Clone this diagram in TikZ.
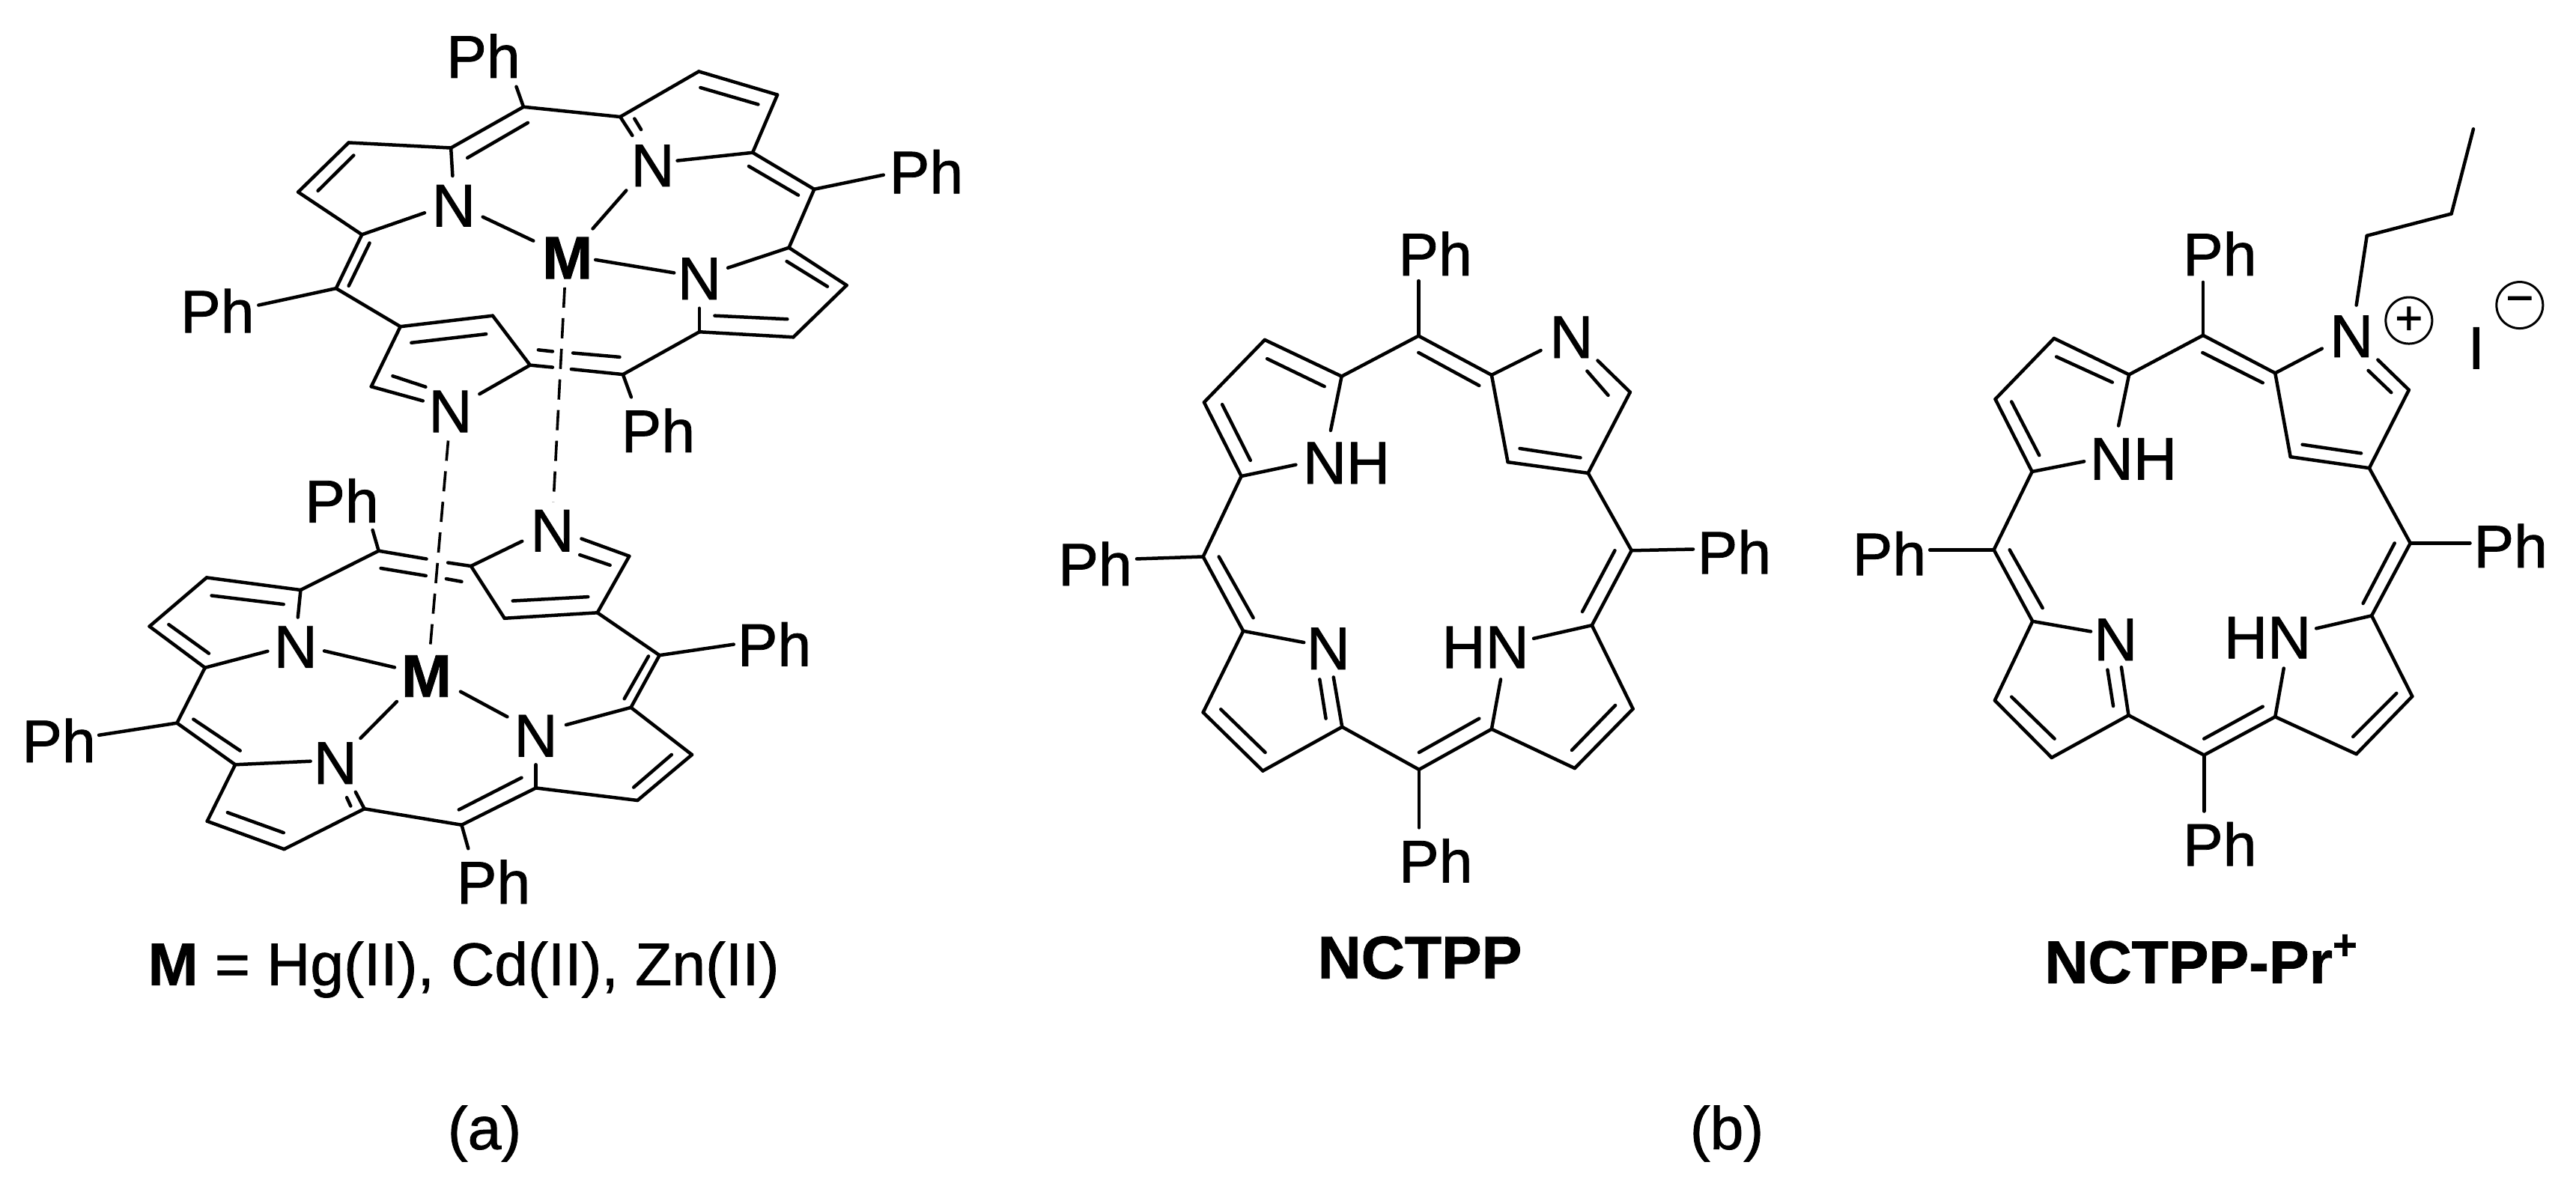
\documentclass[tikz,border=0pt]{standalone}
\usepackage{fontspec}
\setmainfont[RawFeature={embolden=1}]{Liberation Sans}
\newcommand{\atomset}[1]{\foreach \n/\x/\y in {#1}{\coordinate (\n) at (\x,\y);}}
\newcommand{\bondset}[1]{\foreach \a/\b in {#1}{\draw[bondline] (\a) -- (\b);}}
\tikzset{
  bondline/.style={line width=0.045cm,line cap=round,black},
  dashbond/.style={line width=0.036cm,black,dash pattern=on 0.27cm off 0.14cm},
  lab/.style={inner sep=0pt,font=\fontsize{22.9}{27}\selectfont},
  labb/.style={inner sep=0pt,font=\fontsize{22.9}{27}\selectfont\bfseries},
  charge/.style={circle,draw,line width=0.03cm,inner sep=0pt,minimum size=0.62cm,font=\fontsize{18}{18}\selectfont},
  zoneU/.style={x=0.007337cm,y=-0.004146cm,shift={(2cm,0cm)}},
  zoneL/.style={x=0.007337cm,y=-0.004146cm,shift={(0cm,-6cm)}},
  zoneC/.style={x=0.006378cm,y=-0.005869cm,shift={(14cm,-2.8cm)}},
  zoneR/.style={x=0.006378cm,y=-0.006826cm,shift={(24.4cm,-1.3cm)}},
}
\begin{document}
\begin{tikzpicture}
\useasboundingbox (0,0) rectangle (34.4cm,-15.88cm);
% ---------- upper complex
\begin{scope}[zoneU]
\node[lab] (uPh1) at (607,180) {Ph};
\node[lab] (uPh2) at (1413,552) {Ph};
\node[lab] (uPh3) at (123,1000) {Ph};
\node[lab] (uPh4) at (925,1385) {Ph};
\node[lab] (uN1) at (915,533) {N};
\node[lab] (uN2) at (553,662) {N};
\node[lab] (uN3) at (1000,897) {N};
\node[lab] (uN4) at (547,1324) {N};
\node[labb] (uM) at (760,830) {M};
\atomset{a1/680/344,a2/548/476,a3/362/459,a4/270/618,a5/386/755,a6/339/928,a7/456/1051,a8/624/1016,a9/692/1175,a10/861/1205,a11/1000/1068,a12/1171/1085,a13/1268/918,a14/1163/797,a15/1209/609,a16/1097/491,a17/1142/305,a18/999/230,a19/856/376,a20/403/1244,
 ue1/667/279,ue2/1335/563,ue3/198/982,ue4/876/1278,
 ue5/878/436,ue6/960/517,ue7/1000/992,ue8/1052/862,ue9/551/566,ue10/500/685,ue11/497/1290,ue12/600/1268,
 ui1/688/395,uj1/578/508,ui2/882/382,uj2/894/417,ui3/1002/282,uj3/1107/336,ui4/1090/535,uj4/1180/628,ui5/1159/841,uj5/1233/922,ui6/1028/1016,uj6/1160/1027,ui7/476/1103,uj7/612/1075,ui8/400/782,uj8/362/920,ui9/306/614,uj9/371/500,ui10/442/1210,uj10/502/1245,
 us1/733/1182,us2/767/1188,us3/707/1126,us4/733/1131,us5/770/1136,us6/855/1149,
 um1/606/698,um2/698/775,um3/867/613,um4/806/736,um5/811/836,um6/954/878,
 ud1/755/925,ud2/543/1418}
\bondset{a1/a2,a1/a19,a19/a18,a18/a17,a17/a16,a16/a15,a15/a14,a14/a13,a13/a12,a12/a11,a11/a10,a10/us2,us1/a9,a9/a8,a8/a7,a7/a6,a6/a5,a5/a4,a4/a3,a3/a2,a7/a20,
 a1/ue1,a15/ue2,a6/ue3,a10/ue4,a19/ue5,a16/ue6,a11/ue7,a14/ue8,a2/ue9,a5/ue10,a20/ue11,a9/ue12,
 ui1/uj1,ui2/uj2,ui3/uj3,ui4/uj4,ui5/uj5,ui6/uj6,ui7/uj7,ui8/uj8,ui9/uj9,ui10/uj10,us3/us4,us5/us6,
 um1/um2,um3/um4,um5/um6}
\end{scope}
% ---------- lower complex
\begin{scope}[zoneL]
\node[lab] (lPh1) at (622,165) {Ph};
\node[lab] (lPh2) at (1409,627) {Ph};
\node[lab] (lPh3) at (107,937) {Ph};
\node[lab] (lPh4) at (898,1392) {Ph};
\node[lab] (lN1) at (1005,262) {N};
\node[lab] (lN2) at (538,636) {N};
\node[lab] (lN3) at (975,922) {N};
\node[lab] (lN4) at (610,1010) {N};
\node[labb] (lM) at (776,730) {M};
\atomset{b1/689/327,b2/547/453,b3/376/413,b4/272/570,b5/373/703,b6/322/881,b7/428/1015,b8/377/1197,b9/517/1287,b10/663/1157,b11/840/1209,b12/975/1090,b13/1160/1130,b14/1259/983,b15/1148/831,b16/1200/663,b17/1087/526,b18/918/544,b19/857/376,b20/1145/344,
 le1/678/260,le2/1335/628,le3/180/920,le4/852/1285,
 le5/542/541,le6/487/650,le7/565/1004,le8/647/1103,le9/975/1015,le10/1030/887,le11/1058/288,le12/950/296,
 li1/385/471,lj1/516/499,li2/307/564,lj2/380/657,li3/352/869,lj3/437/970,li4/414/1169,lj4/516/1234,li5/638/1148,lj5/631/1121,li6/835/1160,lj6/949/1057,li7/1153/1088,lj7/1222/983,li8/1136/803,lj8/1180/666,li9/933/488,lj9/1070/475,li10/1110/373,lj10/1055/340,
 ls1/776/353,ls2/815/365,ls3/693/383,ls4/775/407,ls5/812/417,ls6/840/426,
 lm1/590/649,lm2/718/702,lm3/838/780,lm4/923/861,lm5/722/812,lm6/656/930,
 ld1/783/632,ld2/1007/170}
\bondset{b1/b2,b2/b3,b3/b4,b4/b5,b5/b6,b6/b7,b7/b8,b8/b9,b9/b10,b10/b11,b11/b12,b12/b13,b13/b14,b14/b15,b15/b16,b16/b17,b17/b18,b18/b19,b17/b20,b1/ls1,ls2/b19,
 b1/le1,b16/le2,b6/le3,b11/le4,b2/le5,b5/le6,b7/le7,b10/le8,b12/le9,b15/le10,b20/le11,b19/le12,
 li1/lj1,li2/lj2,li3/lj3,li4/lj4,li5/lj5,li6/lj6,li7/lj7,li8/lj8,li9/lj9,li10/lj10,ls3/ls4,ls5/ls6,
 lm1/lm2,lm3/lm4,lm5/lm6}
\end{scope}
% dashed contacts between the two complexes
\draw[dashbond] (ud1) -- (ld2);
\draw[dashbond] (ud2) -- (ld1);
% ---------- NCTPP
\begin{scope}[zoneC]
\node[lab] (cPh1) at (810,100) {Ph};
\node[lab] (cPh2) at (98,805) {Ph};
\node[lab] (cPh3) at (1436,778) {Ph};
\node[lab] (cPh4) at (811,1480) {Ph};
\node[lab] (cN1) at (1095,290) {N};
\node[lab] (cNH) at (624,576) {NH};
\node[lab] (cN2) at (586,998) {N};
\node[lab] (cHN) at (915,995) {HN};
\atomset{m1/775/287,c1/614/379,c2/453/296,c3/326/438,c4/404/606,m2/324/789,c5/408/958,c6/324/1143,c7/449/1276,c8/615/1176,m3/776/1273,c9/928/1181,c10/1102/1270,c11/1224/1135,c12/1138/945,m4/1221/775,c13/1130/599,c14/962/574,c15/928/376,c16/1218/415,
 ce1/775/162,ce2/185/794,ce3/776/1405,ce4/1350/772,
 ce5/591/502,ce6/518/580,ce7/535/984,ce8/597/1063,ce9/947/1068,ce10/1016/975,ce11/1150/343,ce12/1031/320,
 ci1/775/325,cj1/902/400,ci2/458/339,cj2/578/402,ci3/364/443,cj3/423/570,ci4/357/789,cj4/429/928,ci5/361/1136,cj5/454/1234,ci6/581/1157,cj6/568/1068,ci7/776/1234,cj7/902/1157,ci8/1096/1229,cj8/1187/1127,ci9/1118/914,cj9/1186/775,ci10/987/543,cj10/1114/564,ci11/1172/422,cj11/1128/367}
\bondset{m1/c1,m1/c15,c1/c2,c2/c3,c3/c4,c4/m2,m2/c5,c5/c6,c6/c7,c7/c8,c8/m3,m3/c9,c9/c10,c10/c11,c11/c12,c12/m4,m4/c13,c13/c14,c14/c15,c13/c16,
 m1/ce1,m2/ce2,m3/ce3,m4/ce4,c1/ce5,c4/ce6,c5/ce7,c8/ce8,c9/ce9,c12/ce10,c16/ce11,c15/ce12,
 ci1/cj1,ci2/cj2,ci3/cj3,ci4/cj4,ci5/cj5,ci6/cj6,ci7/cj7,ci8/cj8,ci9/cj9,ci10/cj10,ci11/cj11}
\end{scope}
% ---------- NCTPP-Pr+
\begin{scope}[zoneR]
\node[lab] (rPh1) at (822,306) {Ph};
\node[lab] (rPh2) at (130,893) {Ph};
\node[lab] (rPh3) at (1431,878) {Ph};
\node[lab] (rPh4) at (822,1462) {Ph};
\node[lab] (rN1) at (1098,468) {N};
\node[lab] (rNH) at (641,708) {NH};
\node[lab] (rN2) at (604,1062) {N};
\node[lab] (rHN) at (922,1058) {HN};
\node[lab] (rI) at (1359,491) {I};
\node[charge] (rPlus) at (1218,437) {+};
\node[charge] (rMinus) at (1450,407) {\char"2212};
\atomset{n1/787/466,d1/632/543,d2/475/472,d3/352/591,d4/429/733,n2/349/886,d5/430/1026,d6/351/1181,d7/470/1293,d8/631/1210,n3/789/1288,d9/938/1213,d10/1108/1286,d11/1225/1173,d12/1140/1015,n4/1221/873,d13/1135/726,d14/970/704,d15/938/540,d16/1218/573,
 re1/787/362,re2/215/886,re3/789/1398,re4/1346/873,
 re5/610/643,re6/538/713,re7/552/1046,re8/616/1116,re9/956/1118,re10/1024/1040,re11/1153/514,re12/1036/492,
 ri1/786/500,rj1/912/559,ri2/480/508,rj2/597/558,ri3/386/596,rj3/444/701,ri4/382/886,rj4/451/1000,ri5/386/1174,rj5/476/1256,ri6/599/1192,rj6/587/1121,ri7/789/1256,rj7/912/1193,ri8/1101/1252,rj8/1192/1167,ri9/1122/991,rj9/1188/873,ri10/995/680,rj10/1118/697,ri11/1181/578,rj11/1133/535,
 p0/1108/407,p1/1130/271,p2/1307/228,p3/1353/62}
\bondset{n1/d1,n1/d15,d1/d2,d2/d3,d3/d4,d4/n2,n2/d5,d5/d6,d6/d7,d7/d8,d8/n3,n3/d9,d9/d10,d10/d11,d11/d12,d12/n4,n4/d13,d13/d14,d14/d15,d13/d16,
 n1/re1,n2/re2,n3/re3,n4/re4,d1/re5,d4/re6,d5/re7,d8/re8,d9/re9,d12/re10,d16/re11,d15/re12,
 ri1/rj1,ri2/rj2,ri3/rj3,ri4/rj4,ri5/rj5,ri6/rj6,ri7/rj7,ri8/rj8,ri9/rj9,ri10/rj10,ri11/rj11,
 p0/p1,p1/p2,p2/p3}
\end{scope}
% ---------- captions
\node[lab] (capM) at (6.19cm,-12.95cm) {\textbf{M} = Hg(II), Cd(II), Zn(II)};
\node[labb] (capC) at (18.96cm,-12.79cm) {NCTPP};
\node[labb] (capR) at (29.40cm,-12.81cm) {NCTPP-Pr\textsuperscript{+}};
\node[lab] (capA) at (6.47cm,-15.14cm) {(a)};
\node[lab] (capB) at (23.06cm,-15.14cm) {(b)};
\end{tikzpicture}
\end{document}
